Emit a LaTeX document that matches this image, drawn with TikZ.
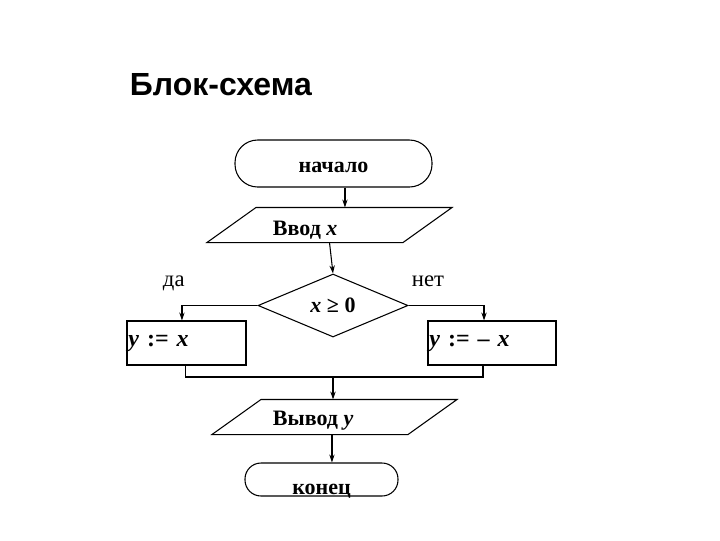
\documentclass[tikz,border=0pt]{standalone}
\usepackage{fontspec}
\setmainfont{Liberation Serif}
\setsansfont{Liberation Sans}
\usetikzlibrary{shapes.geometric, positioning, arrows.meta}

\begin{document}
\begin{tikzpicture}[x=0.75pt, y=-0.75pt, line width=0.8pt,
    every node/.style={font=\fontsize{16.5}{20}\selectfont\bfseries},
    arr/.style={-{Stealth[length=6pt, width=4pt]}},
    term/.style={draw, rectangle, inner sep=0pt},
    io/.style={rectangle, minimum width=146.25pt, minimum height=25.5pt, inner sep=0pt},
    cond/.style={draw, diamond, aspect=2.4, minimum width=112.5pt, minimum height=47.25pt, inner sep=0pt},
    proc/.style={draw, rectangle, minimum height=33pt, inner xsep=1pt, align=left,
        font=\fontsize{18}{20}\selectfont\bfseries},
    note/.style={font=\fontsize{17}{20}\selectfont}]
    \useasboundingbox (0,0) rectangle (720,540);

    % Title
    \node[anchor=base west, font=\fontsize{24}{28}\selectfont\sffamily\bfseries] (title) at (125,95) {Блок-схема};

    % Blocks
    \node[term, minimum width=147.75pt, minimum height=35.25pt, rounded corners=17pt,
        text height=13pt, text depth=0pt] (start) at (333.5,163.5) {начало};
    \node[io] (in) at (329.5,225) {};
    \node[anchor=base west] (intext) at (268,235) {Ввод \textit{x}};
    \node[cond] (test) at (333,305.5) {\textit{x} ≥ 0};
    \node[proc, text width=87.25pt] (lbox) at (186.5,343) {\textit{y} := \textit{x}};
    \node[proc, text width=94pt] (rbox) at (492,343) {\textit{y} := – \textit{x}};
    \node[io] (out) at (334.5,417) {};
    \node[anchor=base west] (outtext) at (268,425) {Вывод \textit{y}};
    \node[term, minimum width=114.75pt, minimum height=24.75pt, rounded corners=12pt] (stop) at (321.5,479.5) {};
    \node[anchor=base] (stoptext) at (321.5,494) {конец};

    % Parallelograms for input / output
    \foreach \n in {in, out}
        \draw ([xshift=18.4pt]\n.north west) -- ([xshift=18.4pt]\n.north east)
            -- ([xshift=-18.4pt]\n.south east) -- ([xshift=-18.4pt]\n.south west) -- cycle;

    % Branch labels
    \node[note, anchor=base west] (yes) at (158,286) {да};
    \node[note, anchor=base west] (no) at (407,286) {нет};

    % Connectors
    \coordinate (s1) at ([xshift=8.6pt]start.south);
    \draw[arr] (s1) -- (s1 |- in.north);
    \draw[arr] (in.south) -- (test.north);
    \draw[arr] (test.west) -| ([xshift=-3.4pt]lbox.north);
    \draw[arr] (test.east) -| ([xshift=-6pt]rbox.north);
    \coordinate (join) at (333,377);
    \draw ([xshift=-1.1pt]lbox.south) |- (join) -| ([xshift=-6.75pt]rbox.south);
    \draw[arr] (join) -- (join |- out.north);
    \coordinate (o1) at ([xshift=-1.9pt]out.south);
    \draw[arr] (o1) -- (o1 |- stop.north);
\end{tikzpicture}
\end{document}
